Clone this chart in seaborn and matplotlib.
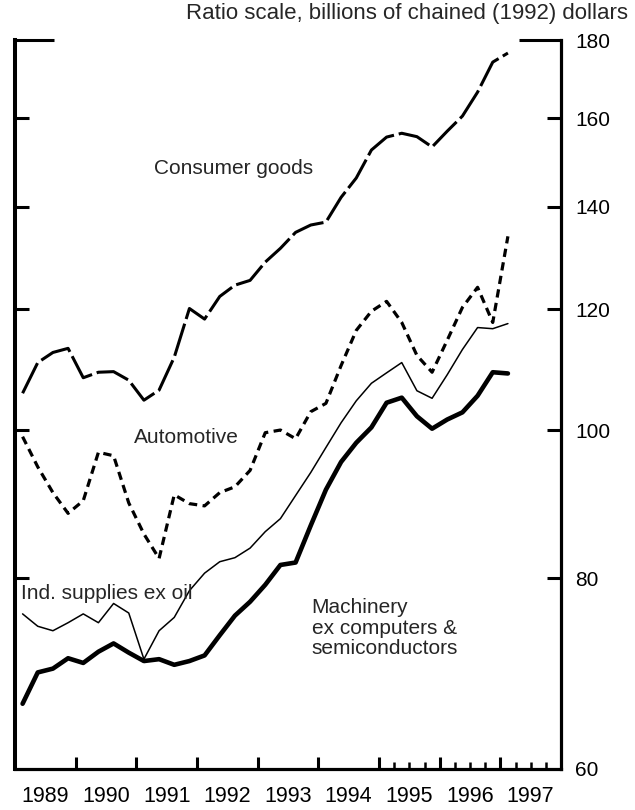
import matplotlib
matplotlib.use("Agg")
import matplotlib.pyplot as plt
import numpy as np
import pandas as pd
import seaborn as sns
from matplotlib.ticker import NullLocator

# Quarterly observations, 1989:Q1 through 1997:Q1
quarters = pd.period_range("1989Q1", "1997Q1", freq="Q")

consumer_goods = [105.7, 110.7, 112.4, 113.1, 108.2, 109.1, 109.2, 107.8,
                  104.6, 106.2, 111.6, 120.1, 118.2, 122.3, 124.4, 125.3,
                  128.8, 131.5, 134.7, 136.2, 136.8, 142.0, 146.2, 152.5,
                  155.5, 156.4, 155.6, 153.2, 156.9, 160.5, 166.4, 174.1,
                  176.5]
automotive = [99.0, 94.6, 91.0, 88.2, 89.9, 96.7, 96.2, 89.6,
              85.5, 82.4, 90.7, 89.5, 89.2, 91.0, 91.8, 94.1,
              99.6, 100.0, 98.7, 102.8, 104.1, 110.2, 116.2, 119.6,
              121.4, 117.6, 111.9, 109.1, 114.5, 120.3, 124.0, 117.6,
              133.9]
ind_supplies = [75.8, 74.4, 73.9, 74.8, 75.8, 74.8, 77.0, 75.9,
                70.8, 73.9, 75.4, 78.5, 80.6, 82.0, 82.5, 83.7,
                85.8, 87.5, 90.6, 93.8, 97.4, 101.1, 104.5, 107.3,
                109.0, 110.7, 106.1, 104.9, 108.7, 112.9, 116.7, 116.5,
                117.4]
machinery = [66.2, 69.4, 69.8, 70.9, 70.4, 71.6, 72.5, 71.5,
             70.6, 70.8, 70.2, 70.6, 71.2, 73.4, 75.6, 77.2,
             79.2, 81.6, 81.9, 86.6, 91.4, 95.3, 98.1, 100.4,
             104.2, 105.0, 102.1, 100.2, 101.6, 102.7, 105.3, 109.1,
             108.9]

year_labels = ["1989", "1990", "1991", "1992", "1993", "1994", "1995", "1996", "1997"]
y_ticks = [60, 80, 100, 120, 140, 160, 180]
y_tick_labels = ["60", "80", "100", "120", "140", "160", "180"]

# Each quarter plotted at its midpoint on a continuous year axis
t = quarters.year + (quarters.quarter - 0.5) / 4.0
df = pd.DataFrame({
    "t": t,
    "consumer": consumer_goods,
    "automotive": automotive,
    "supplies": ind_supplies,
    "machinery": machinery,
})

sns.set_style("ticks")
plt.rcParams["font.family"] = ["Liberation Sans", "DejaVu Sans"]

fig = plt.figure(figsize=(6.35, 8.1), dpi=100)
ax = fig.add_axes([15 / 635, 41 / 810, 546 / 635, 729 / 810])

sns.lineplot(data=df, x="t", y="consumer", ax=ax, color="black",
             linewidth=2.2, linestyle=(0, (11, 1.6)))
sns.lineplot(data=df, x="t", y="automotive", ax=ax, color="black",
             linewidth=2.3, linestyle=(0, (2.6, 1.7)))
sns.lineplot(data=df, x="t", y="supplies", ax=ax, color="black",
             linewidth=1.1)
sns.lineplot(data=df, x="t", y="machinery", ax=ax, color="black",
             linewidth=3.3)

ax.set_yscale("log")
ax.set_ylim(60, 180)
ax.set_xlim(1989, 1998)
ax.set_xlabel("")
ax.set_ylabel("")

# Ratio-scale value axis, labelled on the right
ax.set_yticks(y_ticks, labels=y_tick_labels)
ax.yaxis.set_minor_locator(NullLocator())
ax.tick_params(axis="y", which="major", direction="in", left=True, right=True,
               labelleft=False, labelright=True, length=10, width=2.2,
               labelsize=15, pad=10, color="black", labelcolor="black")
yt = ax.yaxis.get_major_ticks()
yt[0].tick1line.set_visible(False)
yt[0].tick2line.set_visible(False)
yt[-1].tick1line.set_markersize(28)
yt[-1].tick2line.set_markersize(30)

# Year boundaries as major ticks, quarters from 1995 on as minor ticks
ax.set_xticks(np.arange(1990, 1998), labels=[""] * 8)
ax.set_xticks([q for q in np.arange(1995, 1998, 0.25) if q % 1 != 0], minor=True)
ax.tick_params(axis="x", which="major", direction="in", bottom=True, top=False,
               length=9, width=2.2, color="black")
ax.tick_params(axis="x", which="minor", direction="in", bottom=True, top=False,
               length=5, width=1.8, color="black")

# Year names centred within each year
sec = ax.secondary_xaxis("bottom")
sec.set_xticks(np.arange(1989, 1998) + 0.5, labels=year_labels)
sec.tick_params(length=0, labelsize=15.5, pad=12, labelcolor="black")
sec.spines["bottom"].set_visible(False)

ax.spines["top"].set_visible(False)
ax.spines["left"].set_linewidth(2.9)
ax.spines["right"].set_linewidth(2.3)
ax.spines["bottom"].set_linewidth(2.3)
for s in ("left", "right", "bottom"):
    ax.spines[s].set_color("black")

# Series labels
ax.text(1992.61, 148.4, "Consumer goods", ha="center", va="center", fontsize=15)
ax.text(1991.83, 98.9, "Automotive", ha="center", va="center", fontsize=15)
ax.text(1989.1, 78.2, "Ind. supplies ex oil", ha="left", va="center", fontsize=15)
ax.text(1993.89, 74.2, "Machinery\nex computers &\nsemiconductors",
        ha="left", va="center", fontsize=15, linespacing=1.12)

fig.text(628 / 635, 1 - 13 / 810, "Ratio scale, billions of chained (1992) dollars",
         ha="right", va="center", fontsize=16)

fig.savefig("out.png", dpi=100, facecolor="white")
